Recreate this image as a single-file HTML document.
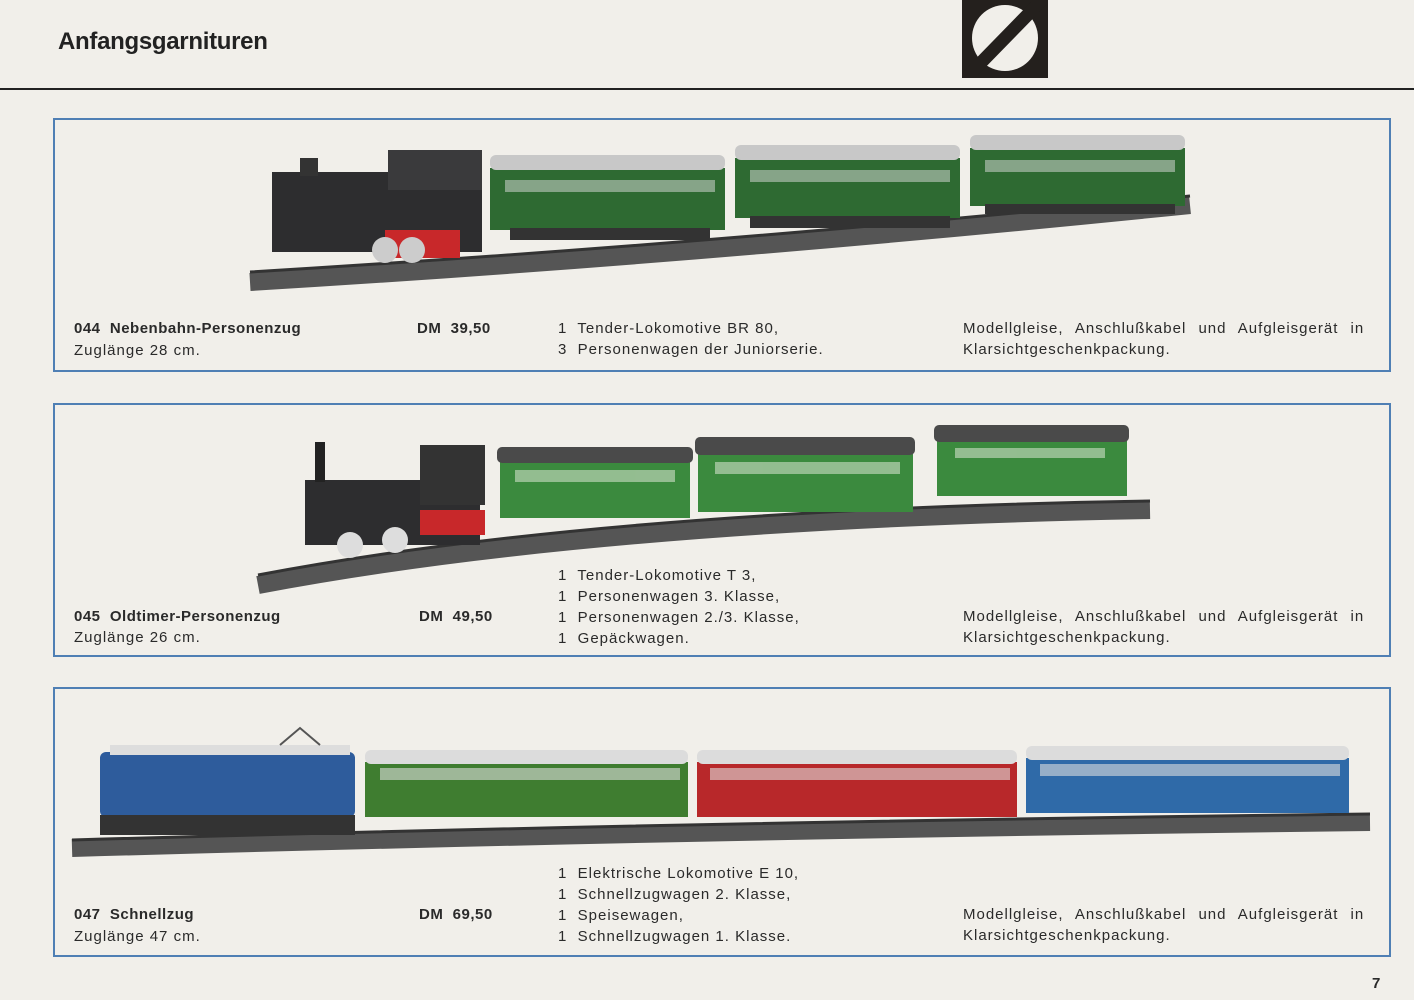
<!DOCTYPE html>
<html><head><meta charset="utf-8"><style>
body{margin:0;width:1414px;height:1000px;background:#f1efea;position:relative;overflow:hidden;font-family:"Liberation Sans",sans-serif;color:#2a2a2a}
.t{position:absolute;font-size:15px;letter-spacing:1px;line-height:21px;white-space:nowrap}
.b{font-weight:bold;letter-spacing:0.5px}
.box{position:absolute;border:2px solid #4f7fb4;box-sizing:border-box}
</style></head><body>
<div class="t" style="left:58px;top:27px;font-size:24px;font-weight:bold;letter-spacing:-0.3px;line-height:30px;color:#222">Anfangsgarnituren</div>
<svg style="position:absolute;left:962px;top:0" width="86" height="78"><rect width="86" height="78" fill="#24201d"/><circle cx="43" cy="38" r="33" fill="#f1efea"/><line x1="84" y1="-4" x2="2" y2="80" stroke="#24201d" stroke-width="13"/></svg>
<div style="position:absolute;left:0;top:88px;width:1414px;height:2px;background:#222"></div>

<div class="box" style="left:53px;top:118px;width:1338px;height:254px"></div>
<div class="box" style="left:53px;top:403px;width:1338px;height:254px"></div>
<div class="box" style="left:53px;top:687px;width:1338px;height:270px"></div>

<svg style="position:absolute;left:0;top:0" width="1414" height="1000">
<g fill="none" stroke="#555" stroke-width="18">
<path d="M250 282 Q700 255 1190 205"/>
<path d="M258 585 Q600 520 1150 510"/>
<path d="M72 848 Q700 830 1370 822"/>
</g>
<g fill="none" stroke="#333" stroke-width="3">
<path d="M250 272 Q700 245 1190 196"/>
<path d="M258 575 Q600 510 1150 501"/>
<path d="M72 840 Q700 822 1370 814"/>
</g>
<!-- train 1 -->
<rect x="272" y="172" width="210" height="80" fill="#2d2d2f"/><rect x="388" y="150" width="94" height="40" fill="#3a3a3c"/>
<rect x="300" y="158" width="18" height="18" fill="#333"/><rect x="385" y="230" width="75" height="28" fill="#c8282a"/>
<circle cx="385" cy="250" r="13" fill="#ccc"/><circle cx="412" cy="250" r="13" fill="#ccc"/>
<rect x="490" y="168" width="235" height="62" fill="#2e6a32"/><rect x="490" y="155" width="235" height="15" fill="#c8c8c8" rx="6"/>
<rect x="735" y="158" width="225" height="60" fill="#2e6a32"/><rect x="735" y="145" width="225" height="15" fill="#c8c8c8" rx="6"/>
<rect x="970" y="148" width="215" height="58" fill="#2e6a32"/><rect x="970" y="135" width="215" height="15" fill="#c8c8c8" rx="6"/>
<rect x="510" y="228" width="200" height="12" fill="#333"/><rect x="750" y="216" width="200" height="12" fill="#333"/><rect x="985" y="204" width="190" height="10" fill="#333"/>
<!-- train 2 -->
<rect x="305" y="480" width="175" height="65" fill="#2d2d2f"/><rect x="420" y="445" width="65" height="60" fill="#333"/>
<rect x="315" y="442" width="10" height="40" fill="#222"/><rect x="420" y="510" width="65" height="25" fill="#c8282a"/>
<circle cx="350" cy="545" r="13" fill="#ddd"/><circle cx="395" cy="540" r="13" fill="#ddd"/>
<rect x="500" y="462" width="190" height="56" fill="#3b8a3e"/><rect x="497" y="447" width="196" height="16" fill="#4a4a4a" rx="5"/>
<rect x="698" y="454" width="215" height="58" fill="#3b8a3e"/><rect x="695" y="437" width="220" height="18" fill="#4a4a4a" rx="5"/>
<rect x="937" y="440" width="190" height="56" fill="#3b8a3e"/><rect x="934" y="425" width="195" height="17" fill="#4a4a4a" rx="5"/>
<g fill="#cfe0c8" opacity=".6"><rect x="515" y="470" width="160" height="12"/><rect x="715" y="462" width="185" height="12"/><rect x="955" y="448" width="150" height="10"/></g>
<!-- train 3 -->
<rect x="100" y="752" width="255" height="65" fill="#2e5c9c" rx="6"/><rect x="110" y="745" width="240" height="10" fill="#ddd"/>
<rect x="100" y="815" width="255" height="20" fill="#333"/><path d="M280 745 L300 728 L320 745" stroke="#555" fill="none" stroke-width="2"/>
<rect x="365" y="762" width="323" height="55" fill="#3f7d30"/><rect x="365" y="750" width="323" height="14" fill="#dcdcdc" rx="6"/>
<rect x="697" y="762" width="320" height="55" fill="#b8282a"/><rect x="697" y="750" width="320" height="14" fill="#dcdcdc" rx="6"/>
<rect x="1026" y="758" width="323" height="55" fill="#2f6aa8"/><rect x="1026" y="746" width="323" height="14" fill="#dcdcdc" rx="6"/>
<g fill="#ddd">
<rect x="380" y="768" width="300" height="12" opacity=".6"/><rect x="710" y="768" width="300" height="12" opacity=".6"/><rect x="1040" y="764" width="300" height="12" opacity=".6"/>
<rect x="505" y="180" width="210" height="12" opacity=".5"/><rect x="750" y="170" width="200" height="12" opacity=".5"/><rect x="985" y="160" width="190" height="12" opacity=".5"/>
</g>
</svg>

<div class="t b" style="left:74px;top:318px">044&nbsp; Nebenbahn-Personenzug</div>
<div class="t" style="left:74px;top:340px">Zuglänge 28 cm.</div>
<div class="t b" style="left:417px;top:318px">DM&nbsp; 39,50</div>
<div class="t" style="left:558px;top:318px">1&nbsp; Tender-Lokomotive BR 80,<br>3&nbsp; Personenwagen der Juniorserie.</div>
<div class="t" style="left:963px;top:318px;word-spacing:7px">Modellgleise, Anschlußkabel und Aufgleisgerät in<br><span style="word-spacing:0">Klarsichtgeschenkpackung.</span></div>

<div class="t b" style="left:74px;top:606px">045&nbsp; Oldtimer-Personenzug</div>
<div class="t" style="left:74px;top:627px">Zuglänge 26 cm.</div>
<div class="t b" style="left:419px;top:606px">DM&nbsp; 49,50</div>
<div class="t" style="left:558px;top:565px">1&nbsp; Tender-Lokomotive T 3,<br>1&nbsp; Personenwagen 3. Klasse,<br>1&nbsp; Personenwagen 2./3. Klasse,<br>1&nbsp; Gepäckwagen.</div>
<div class="t" style="left:963px;top:606px;word-spacing:7px">Modellgleise, Anschlußkabel und Aufgleisgerät in<br><span style="word-spacing:0">Klarsichtgeschenkpackung.</span></div>

<div class="t b" style="left:74px;top:904px">047&nbsp; Schnellzug</div>
<div class="t" style="left:74px;top:926px">Zuglänge 47 cm.</div>
<div class="t b" style="left:419px;top:904px">DM&nbsp; 69,50</div>
<div class="t" style="left:558px;top:863px">1&nbsp; Elektrische Lokomotive E 10,<br>1&nbsp; Schnellzugwagen 2. Klasse,<br>1&nbsp; Speisewagen,<br>1&nbsp; Schnellzugwagen 1. Klasse.</div>
<div class="t" style="left:963px;top:904px;word-spacing:7px">Modellgleise, Anschlußkabel und Aufgleisgerät in<br><span style="word-spacing:0">Klarsichtgeschenkpackung.</span></div>

<div class="t b" style="left:1372px;top:973px">7</div>
</body></html>
